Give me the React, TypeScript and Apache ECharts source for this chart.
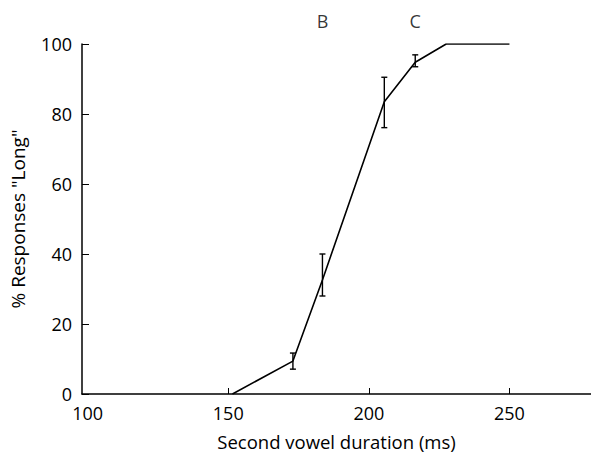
import React, { useEffect, useRef } from "react";
import * as echarts from "echarts";

const durations = [151.5, 173, 183.5, 205.5, 216.5, 227.5, 250];
const percentLong = [0, 9.4, 32.6, 83.5, 94.8, 100, 100];
// error bars: [duration, low, high]
const errorBars: [number, number, number][] = [
  [173, 7.1, 11.7],
  [183.5, 28, 40],
  [205.5, 76.1, 90.5],
  [216.5, 93.5, 96.9],
];
const xTickLabels = [100, 150, 200, 250];
const xTickMarks = [150, 200, 250];
const stimulusLabels: [number, number, string][] = [
  [183.5, 106.5, "B"],
  [216.5, 106.5, "C"],
];

const FONT = "'Open Sans', Lato, sans-serif";

export default function App() {
  const ref = useRef<HTMLDivElement>(null);
  useEffect(() => {
    if (!ref.current) return;
    const chart = echarts.init(ref.current, null, { renderer: "svg" });
    chart.setOption({
      animation: false,
      backgroundColor: "#fff",
      grid: { left: 82, right: 0, top: 44, bottom: 62, containLabel: false, outerBoundsMode: "none" },
      xAxis: {
        type: "value",
        min: 98,
        max: 279,
        name: "Second vowel duration (ms)",
        nameLocation: "middle",
        nameGap: 38,
        nameTextStyle: { fontFamily: FONT, fontSize: 18.5, color: "#000" },
        axisLine: { show: true, lineStyle: { color: "#000", width: 1.5 } },
        axisTick: { show: true, inside: true, length: 6, customValues: xTickMarks, lineStyle: { color: "#000" } },
        axisLabel: { customValues: xTickLabels, margin: 10, fontFamily: FONT, fontSize: 18, color: "#000" },
        splitLine: { show: false },
      },
      yAxis: {
        type: "value",
        min: 0,
        max: 100,
        interval: 20,
        name: '% Responses "Long"',
        nameLocation: "middle",
        nameGap: 55,
        nameTextStyle: { fontFamily: FONT, fontSize: 19, color: "#000" },
        axisLine: { show: true, lineStyle: { color: "#000", width: 1.5 } },
        axisTick: { show: true, inside: true, length: 7, lineStyle: { color: "#000" } },
        axisLabel: { margin: 10, fontFamily: FONT, fontSize: 18, color: "#000" },
        splitLine: { show: false },
      },
      series: [
        {
          type: "line",
          data: durations.map((d, i) => [d, percentLong[i]]),
          symbol: "none",
          lineStyle: { color: "#000", width: 1.6 },
        },
        {
          type: "custom",
          data: errorBars,
          renderItem: (params: any, api: any) => {
            const x = api.value(0);
            const lo = api.coord([x, api.value(1)]);
            const hi = api.coord([x, api.value(2)]);
            const cap = 3;
            const style = { stroke: "#000", lineWidth: 1.4 };
            return {
              type: "group",
              children: [
                { type: "line", shape: { x1: lo[0], y1: lo[1], x2: hi[0], y2: hi[1] }, style },
                { type: "line", shape: { x1: lo[0] - cap, y1: lo[1], x2: lo[0] + cap, y2: lo[1] }, style },
                { type: "line", shape: { x1: hi[0] - cap, y1: hi[1], x2: hi[0] + cap, y2: hi[1] }, style },
              ],
            };
          },
        },
        {
          type: "scatter",
          clip: false,
          symbolSize: 0,
          data: stimulusLabels.map(([x, y, t]) => ({ value: [x, y], name: t })),
          label: {
            show: true,
            position: "inside",
            formatter: (p: any) => p.name,
            fontFamily: FONT,
            fontSize: 18,
            color: "#000",
          },
        },
      ],
    });
    return () => chart.dispose();
  }, []);
  return <div ref={ref} style={{ width: 591, height: 456, position: "absolute", left: 0, top: 0 }} />;
}
